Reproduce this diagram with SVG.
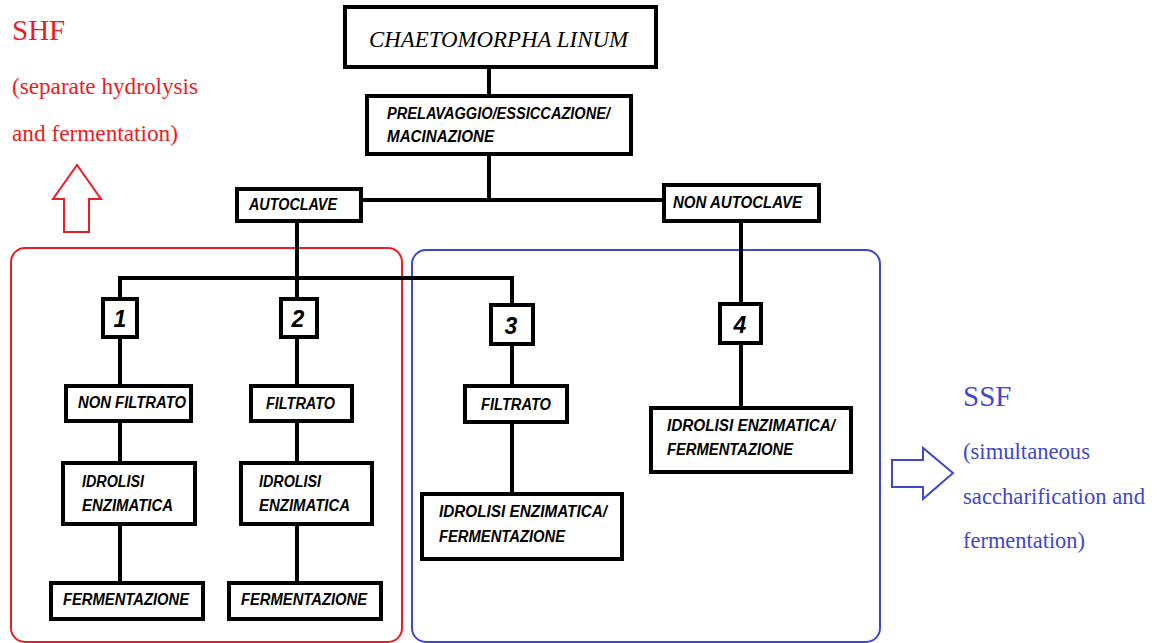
<svg xmlns="http://www.w3.org/2000/svg" width="1157" height="643" viewBox="0 0 1157 643">
<style>
.box{fill:#fff;stroke:#000;stroke-width:4}
.lbl{font-family:"Liberation Sans",Arial,sans-serif;font-weight:bold;font-style:italic;font-size:16px;fill:#000}
.num{font-family:"Liberation Sans",Arial,sans-serif;font-weight:bold;font-style:italic;font-size:23px;fill:#000;text-anchor:middle}
.conn{fill:none;stroke:#000;stroke-width:4}
.red{font-family:"Liberation Serif","Times New Roman",serif;fill:#ed1c24}
.blue{font-family:"Liberation Serif","Times New Roman",serif;fill:#3f48cc}
</style>
<rect width="1157" height="643" fill="#fff"/>
<g id="groups">
<rect x="11" y="248" width="391" height="394" rx="14" fill="none" stroke="#ed1c24" stroke-width="2"/>
<rect x="412" y="250" width="468" height="392" rx="14" fill="none" stroke="#3f48cc" stroke-width="2"/>
</g>
<g id="shf-label">
<text class="red" x="12" y="40" font-size="29">SHF</text>
<text class="red" x="12" y="94" font-size="23" textLength="186" lengthAdjust="spacingAndGlyphs">(separate hydrolysis</text>
<text class="red" x="12" y="141" font-size="23" textLength="166" lengthAdjust="spacingAndGlyphs">and fermentation)</text>
<polygon points="77,165 53,199 64,199 64,232 89,232 89,199 101,199" fill="#fff" stroke="#ed1c24" stroke-width="2"/>
</g>
<g id="ssf-label">
<text class="blue" x="963" y="406" font-size="29">SSF</text>
<text class="blue" x="963" y="459" font-size="23" textLength="127" lengthAdjust="spacingAndGlyphs">(simultaneous</text>
<text class="blue" x="963" y="504" font-size="23" textLength="182" lengthAdjust="spacingAndGlyphs">saccharification and</text>
<text class="blue" x="963" y="548" font-size="23" textLength="122" lengthAdjust="spacingAndGlyphs">fermentation)</text>
<polygon points="892,460 923,460 923,448 953,473 923,499 923,487 892,487" fill="#fff" stroke="#3f48cc" stroke-width="2"/>
</g>
<g id="connectors">
<line class="conn" x1="489" y1="69" x2="489" y2="96"/>
<line class="conn" x1="489" y1="156" x2="489" y2="200"/>
<line class="conn" x1="361" y1="200" x2="664" y2="200"/>
<line class="conn" x1="297" y1="223" x2="297" y2="299"/>
<polyline class="conn" points="120,299 120,278 512,278 512,305"/>
<line class="conn" x1="741" y1="223" x2="741" y2="304"/>
<line class="conn" x1="120" y1="339" x2="120" y2="386"/>
<line class="conn" x1="120" y1="423" x2="120" y2="463"/>
<line class="conn" x1="120" y1="526" x2="120" y2="583"/>
<line class="conn" x1="297" y1="339" x2="297" y2="386"/>
<line class="conn" x1="297" y1="423" x2="297" y2="463"/>
<line class="conn" x1="297" y1="526" x2="297" y2="583"/>
<line class="conn" x1="512" y1="346" x2="512" y2="386"/>
<line class="conn" x1="512" y1="424" x2="512" y2="494"/>
<line class="conn" x1="741" y1="345" x2="741" y2="408"/>
</g>
<g id="chaetomorpha">
<rect class="box" x="345" y="7" width="311" height="60"/>
<text x="369" y="47" font-family="Liberation Serif,'Times New Roman',serif" font-style="italic" font-size="23" textLength="259" lengthAdjust="spacingAndGlyphs" fill="#000">CHAETOMORPHA LINUM</text>
</g>
<g id="prelavaggio">
<rect class="box" x="367" y="96" width="264" height="58"/>
<text class="lbl" x="387" y="119" textLength="223" lengthAdjust="spacingAndGlyphs">PRELAVAGGIO/ESSICCAZIONE/</text>
<text class="lbl" x="387" y="142" textLength="107" lengthAdjust="spacingAndGlyphs">MACINAZIONE</text>
</g>
<g id="autoclave">
<rect class="box" x="237" y="189" width="124" height="32"/>
<text class="lbl" x="249" y="210" textLength="88" lengthAdjust="spacingAndGlyphs">AUTOCLAVE</text>
</g>
<g id="non-autoclave">
<rect class="box" x="664" y="185" width="155" height="36"/>
<text class="lbl" x="673" y="208" textLength="129" lengthAdjust="spacingAndGlyphs">NON AUTOCLAVE</text>
</g>
<g id="n1"><rect class="box" x="103" y="299" width="34" height="38"/><text class="num" x="120" y="327">1</text></g>
<g id="n2"><rect class="box" x="281" y="299" width="36" height="38"/><text class="num" x="298" y="327">2</text></g>
<g id="n3"><rect class="box" x="491" y="305" width="42" height="39"/><text class="num" x="511" y="334">3</text></g>
<g id="n4"><rect class="box" x="720" y="304" width="41" height="39"/><text class="num" x="740" y="333">4</text></g>
<g id="non-filtrato-1"><rect class="box" x="66" y="386" width="125" height="35"/><text class="lbl" x="78" y="408" textLength="108" lengthAdjust="spacingAndGlyphs">NON FILTRATO</text></g>
<g id="filtrato-2"><rect class="box" x="251" y="386" width="101" height="35"/><text class="lbl" x="266" y="409" textLength="69" lengthAdjust="spacingAndGlyphs">FILTRATO</text></g>
<g id="idrolisi-1"><rect class="box" x="63" y="463" width="132" height="61"/><text class="lbl" x="82" y="487" textLength="62" lengthAdjust="spacingAndGlyphs">IDROLISI</text><text class="lbl" x="82" y="511" textLength="91" lengthAdjust="spacingAndGlyphs">ENZIMATICA</text></g>
<g id="idrolisi-2"><rect class="box" x="241" y="463" width="131" height="61"/><text class="lbl" x="259" y="487" textLength="62" lengthAdjust="spacingAndGlyphs">IDROLISI</text><text class="lbl" x="259" y="511" textLength="91" lengthAdjust="spacingAndGlyphs">ENZIMATICA</text></g>
<g id="fermentazione-1"><rect class="box" x="51" y="583" width="152" height="36"/><text class="lbl" x="63" y="605" textLength="126" lengthAdjust="spacingAndGlyphs">FERMENTAZIONE</text></g>
<g id="fermentazione-2"><rect class="box" x="229" y="583" width="152" height="36"/><text class="lbl" x="241" y="605" textLength="126" lengthAdjust="spacingAndGlyphs">FERMENTAZIONE</text></g>
<g id="filtrato-3"><rect class="box" x="465" y="386" width="102" height="36"/><text class="lbl" x="481" y="410" textLength="70" lengthAdjust="spacingAndGlyphs">FILTRATO</text></g>
<g id="idro-ferm-3"><rect class="box" x="422" y="494" width="200" height="65"/><text class="lbl" x="439" y="517" textLength="168" lengthAdjust="spacingAndGlyphs">IDROLISI ENZIMATICA/</text><text class="lbl" x="439" y="542" textLength="126" lengthAdjust="spacingAndGlyphs">FERMENTAZIONE</text></g>
<g id="idro-ferm-4"><rect class="box" x="651" y="408" width="200" height="64"/><text class="lbl" x="667" y="431" textLength="168" lengthAdjust="spacingAndGlyphs">IDROLISI ENZIMATICA/</text><text class="lbl" x="667" y="455" textLength="126" lengthAdjust="spacingAndGlyphs">FERMENTAZIONE</text></g>
</svg>
